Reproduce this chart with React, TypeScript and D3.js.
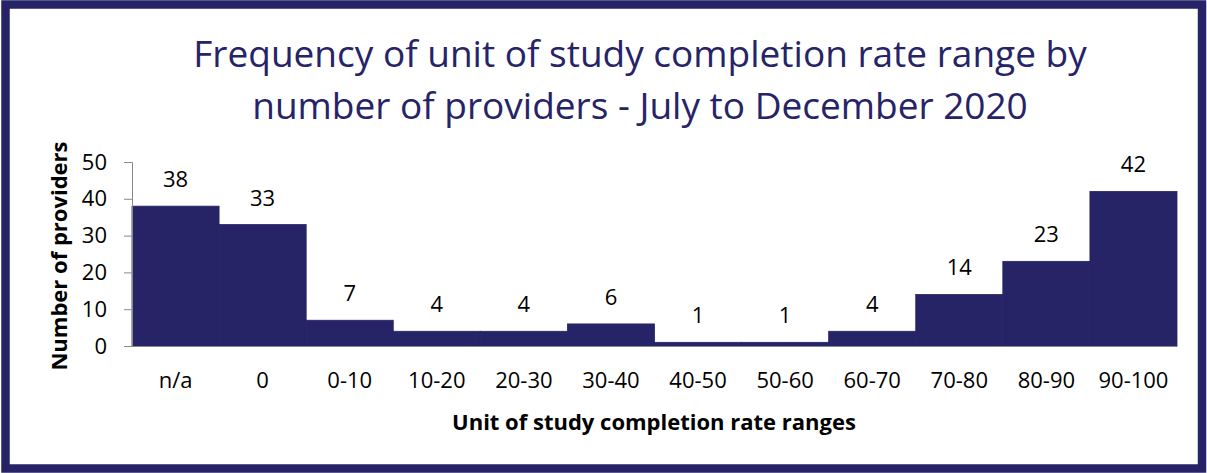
import { useEffect, useRef } from 'react'
import * as d3 from 'd3'

const categories = ['n/a', '0', '0-10', '10-20', '20-30', '30-40', '40-50', '50-60', '60-70', '70-80', '80-90', '90-100']
const providers = [38, 33, 7, 4, 4, 6, 1, 1, 4, 14, 23, 42]
const yTicks = [0, 10, 20, 30, 40, 50]
const titleLines = ['Frequency of unit of study completion rate range by', 'number of providers - July to December 2020']

const navy = '#262367'
const font = '"Open Sans", sans-serif'

const App = () => {
	const svgRef = useRef(null)

	useEffect(() => {
		const width = 1207
		const height = 473
		const margin = { top: 162, right: 30, bottom: 127, left: 132 }

		const svg = d3.select(svgRef.current)
		svg.selectAll('*').remove()
		svg.attr('width', width).attr('height', height)

		// frame
		svg
			.append('rect')
			.attr('x', 5.5)
			.attr('y', 4.5)
			.attr('width', 1196.5)
			.attr('height', 464)
			.attr('fill', 'white')
			.attr('stroke', navy)
			.attr('stroke-width', 8.5)

		// title
		svg
			.append('g')
			.selectAll('text')
			.data(titleLines)
			.join('text')
			.attr('x', 640)
			.attr('y', (d, i) => 67 + i * 52)
			.attr('text-anchor', 'middle')
			.style('font-family', font)
			.style('font-size', '37px')
			.style('fill', navy)
			.text((d) => d)

		const x = d3
			.scaleBand()
			.domain(categories)
			.range([margin.left, 1177])
			.padding(0)

		const y = d3
			.scaleLinear()
			.domain([0, 50])
			.range([height - margin.bottom, margin.top])

		// bars (stroked in the fill colour so no seams show between them)
		svg
			.append('g')
			.selectAll('rect')
			.data(providers)
			.join('rect')
			.attr('x', (d, i) => x(categories[i]))
			.attr('y', (d) => y(d))
			.attr('width', x.bandwidth())
			.attr('height', (d) => y(0) - y(d))
			.attr('fill', navy)
			.attr('stroke', navy)
			.attr('stroke-width', 0.8)

		// value labels
		svg
			.append('g')
			.selectAll('text')
			.data(providers)
			.join('text')
			.attr('x', (d, i) => x(categories[i]) + x.bandwidth() / 2)
			.attr('y', (d) => y(d) - 19)
			.attr('text-anchor', 'middle')
			.style('font-family', font)
			.style('font-size', '22px')
			.style('fill', 'black')
			.text((d) => d)

		// y axis
		const yAxis = d3.axisLeft(y).tickValues(yTicks).tickSize(8).tickPadding(17)
		const gy = svg.append('g').attr('transform', `translate(${margin.left},0)`).call(yAxis)
		gy.select('.domain').attr('stroke', '#898989')
		gy.selectAll('.tick line').attr('stroke', '#898989')
		gy.selectAll('text')
			.style('font-family', font)
			.style('font-size', '22px')
			.style('fill', 'black')

		// x axis
		const xAxis = d3.axisBottom(x).tickSize(0).tickPadding(26)
		const gx = svg.append('g').attr('transform', `translate(0,${y(0)})`).call(xAxis)
		gx.select('.domain').attr('stroke', '#898989')
		gx.selectAll('text')
			.style('font-family', font)
			.style('font-size', '22px')
			.style('fill', 'black')

		// axis titles
		svg
			.append('text')
			.attr('x', 654)
			.attr('y', 430)
			.attr('text-anchor', 'middle')
			.style('font-family', font)
			.style('font-size', '22px')
			.style('font-weight', 'bold')
			.style('fill', 'black')
			.text('Unit of study completion rate ranges')

		svg
			.append('text')
			.attr('transform', 'rotate(-90)')
			.attr('x', -256)
			.attr('y', 67)
			.attr('text-anchor', 'middle')
			.style('font-family', font)
			.style('font-size', '22px')
			.style('font-weight', 'bold')
			.style('fill', 'black')
			.text('Number of providers')
	}, [])

	return <svg ref={svgRef} style={{ position: 'absolute', left: 0, top: 0 }}></svg>
}

export default App
